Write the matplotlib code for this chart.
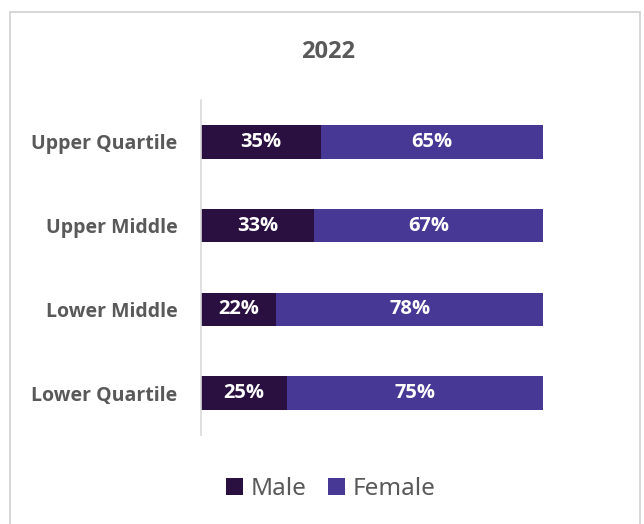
import matplotlib
matplotlib.use("Agg")
import matplotlib.pyplot as plt
from matplotlib.patches import Rectangle

categories = ["Upper Quartile", "Upper Middle", "Lower Middle", "Lower Quartile"]
male = [35, 33, 22, 25]
female = [65, 67, 78, 75]
title = "2022"

plt.rcParams['font.family'] = ['Noto Sans', 'DejaVu Sans']
bold_fam = ['Open Sans', 'DejaVu Sans']
gray = "#595959"
c_male = "#2A1040"
c_female = "#483895"

fig = plt.figure(figsize=(6.44, 5.24), dpi=100)
fig.patches.append(Rectangle((10/644, -0.02), 630/644, 1.02 - 12/524, transform=fig.transFigure,
                             fill=False, edgecolor="#D0D0D0", linewidth=1.2))
ax = fig.add_axes([201/644, 1 - 435/524, 342/644, 335/524])

y = list(range(len(categories)))[::-1]
b1 = ax.barh(y, male, height=0.4, color=c_male, label="Male")
b2 = ax.barh(y, female, left=male, height=0.4, color=c_female, label="Female")
for bars, vals, lefts in [(b1, male, [0]*4), (b2, female, male)]:
    for yi, v, l in zip(y, vals, lefts):
        ax.text(l + v/2, yi, f"{v}%", ha="center", va="center", color="white",
                fontsize=14.5, fontweight="bold", family=bold_fam)

ax.set_xlim(0, 100)
ax.set_ylim(-0.5, 3.5)
ax.set_yticks(y)
ax.set_yticklabels(categories, fontsize=14, fontweight="bold", color=gray, family=bold_fam)
ax.tick_params(axis="y", length=0, pad=17)
ax.set_xticks([])
for s in ["top", "right", "bottom"]:
    ax.spines[s].set_visible(False)
ax.spines["left"].set_color("#D9D9D9")
ax.spines["left"].set_linewidth(1.2)

fig.text(328/644, 1 - 52/524, title, ha="center", va="center", fontsize=17,
         fontweight="bold", color=gray, family=bold_fam)
leg = fig.legend(handles=[b1, b2], loc="center", bbox_to_anchor=(331/644, 1 - 489/524),
                 ncol=2, frameon=False, fontsize=17.5, handlelength=0.7, handleheight=0.7,
                 handletextpad=0.3, columnspacing=0.9)
for t in leg.get_texts():
    t.set_color(gray)

fig.savefig("out.png", dpi=100)
